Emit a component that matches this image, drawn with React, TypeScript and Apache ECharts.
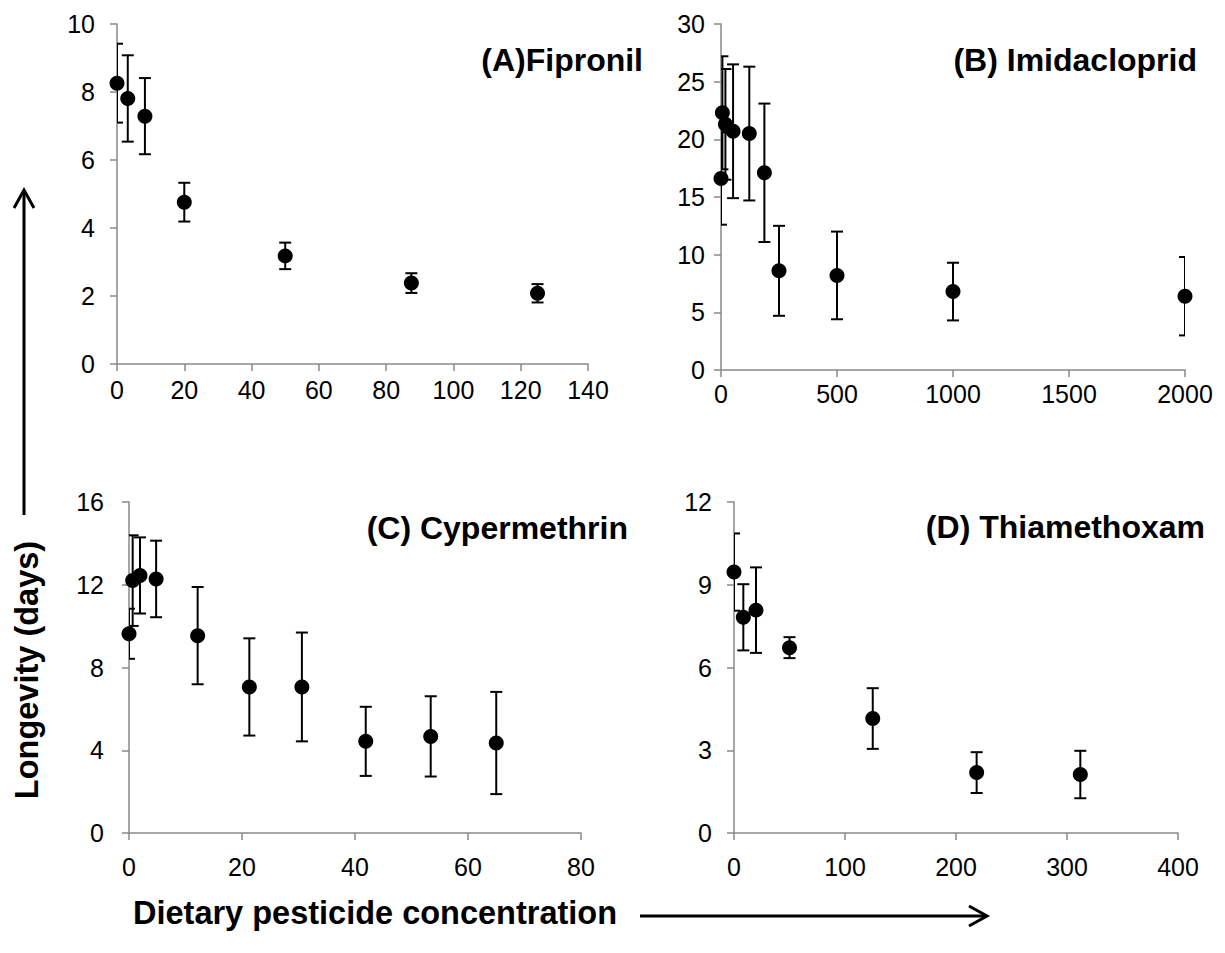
import React, { useEffect, useRef } from "react";
import * as echarts from "echarts";

// Panel A — Fipronil
const fipronilConc = [0, 3.2, 8.3, 20, 50, 87.5, 125];
const fipronilMean = [8.26, 7.81, 7.29, 4.76, 3.18, 2.38, 2.08];
const fipronilErr = [1.16, 1.27, 1.12, 0.57, 0.39, 0.29, 0.27];

// Panel B — Imidacloprid
const imidaConc = [0, 6, 19, 52, 122, 187, 250, 500, 1000, 2000];
const imidaMean = [16.6, 22.3, 21.3, 20.7, 20.5, 17.1, 8.6, 8.2, 6.8, 6.4];
const imidaErr = [4.0, 4.9, 4.8, 5.8, 5.8, 6.0, 3.9, 3.8, 2.5, 3.4];

// Panel C — Cypermethrin
const cyperConc = [0, 0.65, 1.95, 4.8, 12.15, 21.3, 30.6, 41.9, 53.4, 65];
const cyperMean = [9.63, 12.2, 12.45, 12.28, 9.54, 7.06, 7.06, 4.43, 4.67, 4.35];
const cyperErr = [1.21, 2.19, 1.84, 1.85, 2.35, 2.35, 2.63, 1.67, 1.94, 2.47];

// Panel D — Thiamethoxam
const thiaConc = [0, 8.4, 19.8, 50, 125, 218.6, 312];
const thiaMean = [9.46, 7.82, 8.08, 6.72, 4.15, 2.19, 2.12];
const thiaErr = [1.4, 1.2, 1.55, 0.38, 1.1, 0.74, 0.86];

// Axis ranges: [min, max, interval]
const xRanges = [
  [0, 140, 20],
  [0, 2000, 500],
  [0, 80, 20],
  [0, 400, 100],
];
const yRanges = [
  [0, 10, 2],
  [0, 30, 5],
  [0, 16, 4],
  [0, 12, 3],
];

const panelTitles = ["(A)Fipronil", "(B) Imidacloprid", "(C) Cypermethrin", "(D) Thiamethoxam"];
const yAxisTitle = "Longevity (days)";
const xAxisTitle = "Dietary pesticide concentration";

const FONT = "'Liberation Sans', Arial, Helvetica, sans-serif";
const AXIS_GRAY = "#898989";

const grids = [
  { left: 117, top: 24, width: 471, height: 340 },
  { left: 721, top: 24, width: 464, height: 346 },
  { left: 129, top: 502, width: 452, height: 331 },
  { left: 734, top: 502, width: 444, height: 331 },
];
const yLabelMargins = [22, 16, 25, 22];
const xLabelMargins = [13, 11, 21, 21];
const titlePos = [
  { x: 643, y: 60 },
  { x: 1197, y: 60 },
  { x: 628, y: 528 },
  { x: 1205, y: 527 },
];

function errorBars(xs: number[], means: number[], errs: number[], idx: number) {
  return {
    type: "custom",
    xAxisIndex: idx,
    yAxisIndex: idx,
    clip: true,
    z: 2,
    silent: true,
    data: xs.map((x, i) => [x, means[i] - errs[i], means[i] + errs[i]]),
    encode: { x: 0, y: [1, 2] },
    renderItem: (_params: any, api: any) => {
      const x = api.value(0);
      const lo = api.coord([x, api.value(1)]);
      const hi = api.coord([x, api.value(2)]);
      const hw = 6;
      const style = { stroke: "#000", lineWidth: 2, fill: "none" };
      return {
        type: "group",
        children: [
          { type: "line", shape: { x1: hi[0], y1: hi[1], x2: lo[0], y2: lo[1] }, style },
          { type: "line", shape: { x1: hi[0] - hw, y1: hi[1], x2: hi[0] + hw, y2: hi[1] }, style },
          { type: "line", shape: { x1: lo[0] - hw, y1: lo[1], x2: lo[0] + hw, y2: lo[1] }, style },
        ],
      };
    },
  };
}

function points(xs: number[], means: number[], idx: number) {
  return {
    type: "scatter",
    xAxisIndex: idx,
    yAxisIndex: idx,
    symbol: "circle",
    symbolSize: 15,
    z: 3,
    itemStyle: { color: "#000", opacity: 1 },
    data: xs.map((x, i) => [x, means[i]]),
  };
}

export default function App() {
  const ref = useRef<HTMLDivElement>(null);

  useEffect(() => {
    if (!ref.current) return;
    const chart = echarts.init(ref.current, undefined, { renderer: "svg" });

    const axisCommon = {
      axisLine: { show: true, lineStyle: { color: AXIS_GRAY, width: 1.5 } },
      axisTick: { show: true, inside: false, length: 7, lineStyle: { color: AXIS_GRAY, width: 1.5 } },
      splitLine: { show: false },
    };
    const labelCommon = {
      fontFamily: FONT,
      fontSize: 25,
      color: "#000",
      formatter: (v: number) => String(v),
    };

    const option: any = {
      animation: false,
      backgroundColor: "#fff",
      grid: grids.map((g) => ({ ...g, containLabel: false })),
      xAxis: xRanges.map((r, i) => ({
        type: "value",
        gridIndex: i,
        min: r[0],
        max: r[1],
        interval: r[2],
        ...axisCommon,
        axisLabel: { ...labelCommon, margin: xLabelMargins[i] },
      })),
      yAxis: yRanges.map((r, i) => ({
        type: "value",
        gridIndex: i,
        min: r[0],
        max: r[1],
        interval: r[2],
        ...axisCommon,
        axisLabel: { ...labelCommon, margin: yLabelMargins[i] },
      })),
      series: [
        errorBars(fipronilConc, fipronilMean, fipronilErr, 0),
        points(fipronilConc, fipronilMean, 0),
        errorBars(imidaConc, imidaMean, imidaErr, 1),
        points(imidaConc, imidaMean, 1),
        errorBars(cyperConc, cyperMean, cyperErr, 2),
        points(cyperConc, cyperMean, 2),
        errorBars(thiaConc, thiaMean, thiaErr, 3),
        points(thiaConc, thiaMean, 3),
      ],
      graphic: [
        ...panelTitles.map((t, i) => ({
          type: "text",
          x: titlePos[i].x,
          y: titlePos[i].y,
          style: {
            text: t,
            font: `bold 32px ${FONT}`,
            fill: "#000",
            align: "right",
            verticalAlign: "middle",
          },
        })),
        {
          type: "text",
          x: 27,
          y: 670,
          rotation: Math.PI / 2,
          style: {
            text: yAxisTitle,
            font: `bold 32.5px ${FONT}`,
            fill: "#000",
            align: "center",
            verticalAlign: "middle",
          },
        },
        {
          type: "text",
          x: 133,
          y: 913,
          style: {
            text: xAxisTitle,
            font: `bold 32.5px ${FONT}`,
            fill: "#000",
            align: "left",
            verticalAlign: "middle",
          },
        },
        // vertical arrow
        { type: "line", shape: { x1: 24, y1: 190, x2: 24, y2: 515 }, style: { stroke: "#000", lineWidth: 3 } },
        {
          type: "polyline",
          shape: { points: [[14, 208], [24, 190], [34, 208]] },
          style: { stroke: "#000", lineWidth: 3, fill: "none" },
        },
        // horizontal arrow
        { type: "line", shape: { x1: 640, y1: 916, x2: 987, y2: 916 }, style: { stroke: "#000", lineWidth: 3 } },
        {
          type: "polyline",
          shape: { points: [[969, 906], [987, 916], [969, 926]] },
          style: { stroke: "#000", lineWidth: 3, fill: "none" },
        },
      ],
    };

    chart.setOption(option);
    return () => chart.dispose();
  }, []);

  return (
    <div
      ref={ref}
      style={{ position: "absolute", left: 0, top: 0, width: 1225, height: 953, background: "#fff" }}
    />
  );
}
